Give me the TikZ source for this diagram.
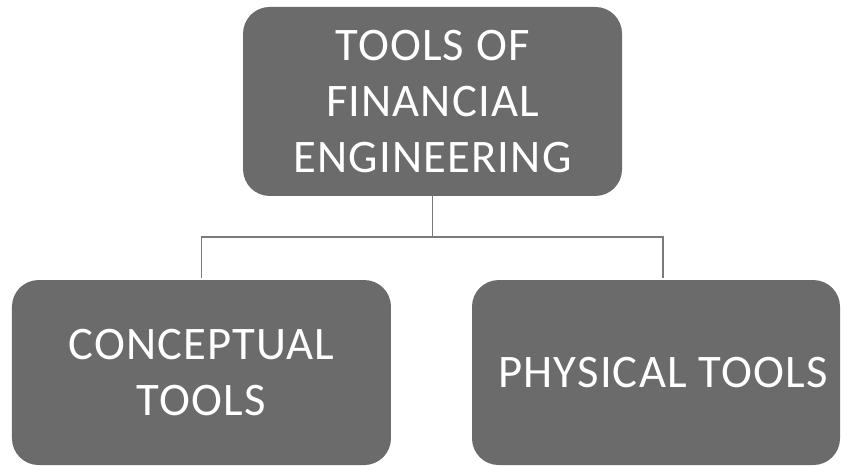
\documentclass[tikz,border=0pt]{standalone}
\usepackage{fontspec}
\setmainfont{Carlito}[LetterSpace=2.5]
\usepackage{tikz}
\usetikzlibrary{positioning}
\definecolor{toolGray}{HTML}{6B6B6B}
\tikzstyle{fToolBox} = [rectangle, rounded corners=20pt, fill=toolGray, text=white, align=center, font=\fontsize{35}{42}\selectfont]
\tikzstyle{fLink} = [line width=1.1pt, draw=toolGray!90]

\begin{document}
\begin{tikzpicture}
    \useasboundingbox (0,0) rectangle (630.75pt,-349.5pt);
    \node (toolsTop) [fToolBox, minimum width=284.25pt, minimum height=141.75pt] at (324.4pt,-76.1pt) {TOOLS OF\\FINANCIAL\\ENGINEERING};
    \node (conceptTools) [fToolBox, minimum width=284.25pt, minimum height=138.75pt] at (151.1pt,-279.4pt) {CONCEPTUAL\\TOOLS};
    \node (physTools) [fToolBox, minimum width=276pt, minimum height=138.75pt] at (492pt,-279.4pt) {\hspace*{10.5pt}PHYSICAL TOOLS};

    \draw [fLink] (toolsTop.south) -- ++(0,-30.75pt) coordinate (bus);
    \draw [fLink] ([yshift=1.5pt]conceptTools.north) |- (bus);
    \draw [fLink] (bus) -| ([xshift=5.25pt, yshift=1.5pt]physTools.north);
\end{tikzpicture}
\end{document}
